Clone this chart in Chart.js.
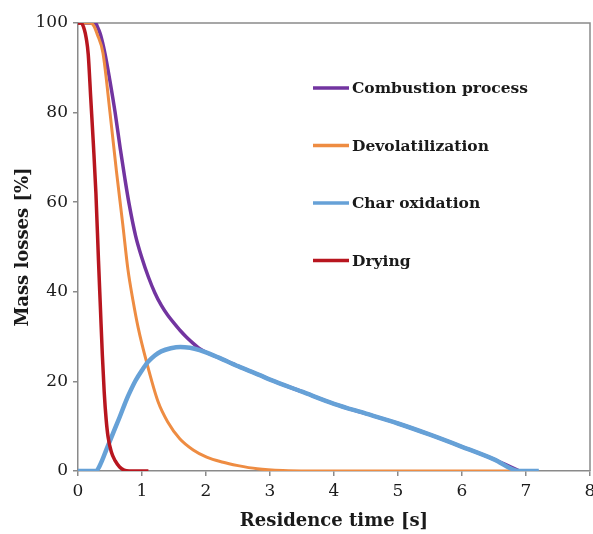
<!DOCTYPE html>
<html>
<head>
<meta charset="utf-8">
<script src="https://cdn.jsdelivr.net/npm/chart.js@4/dist/chart.umd.min.js"></script>
<style>
  html, body { margin: 0; padding: 0; background: #fff; }
  #wrap { width: 593px; height: 534px; }
</style>
</head>
<body>
<div id="wrap"><canvas id="massChart" width="593" height="534"></canvas></div>
<script>
// values (time in s, mass losses in %)
const combustionTime = [0, 0.27, 0.3, 0.35, 0.42, 0.5, 0.58, 0.66, 0.73, 0.8, 0.9, 1.0, 1.1, 1.2, 1.3, 1.4, 1.5, 1.6, 1.7, 1.8, 1.9, 2.0, 2.2, 2.5, 2.84, 3, 3.5, 4, 4.5, 5, 5.5, 6, 6.5, 6.9];
const combustionMass = [100, 100, 99.3, 97.5, 93.3, 87, 80, 72, 65.5, 59.5, 52.5, 47.5, 43.3, 39.8, 37, 34.8, 33, 31.3, 29.8, 28.5, 27.3, 26.5, 25.3, 23.4, 21.4, 20.4, 17.7, 15, 12.8, 10.6, 8.1, 5.4, 2.6, 0];

const devolTime = [0, 0.19, 0.25, 0.3, 0.39, 0.5, 0.6, 0.7, 0.78, 0.86, 0.94, 1.07, 1.25, 1.4, 1.59, 1.8, 2.01, 2.25, 2.5, 2.8, 3.2, 3.6, 5, 7];
const devolMass = [100, 100, 99.3, 97.5, 93.3, 80, 67, 55, 45, 38, 32, 24.4, 15.5, 11, 7.2, 4.7, 3.1, 2, 1.2, 0.5, 0.1, 0, 0, 0];

const charTime = [0, 0.28, 0.35, 0.45, 0.55, 0.65, 0.76, 0.81, 0.9, 1.0, 1.09, 1.2, 1.3, 1.45, 1.6, 1.75, 1.9, 2.0, 2.2, 2.5, 2.84, 3, 3.5, 4, 4.5, 5, 5.5, 6, 6.5, 6.9, 7.2];
const charMass = [0, 0, 1.5, 5, 8.5, 12, 16, 17.6, 20.2, 22.5, 24.3, 25.8, 26.7, 27.4, 27.7, 27.5, 27.0, 26.5, 25.3, 23.4, 21.4, 20.4, 17.7, 15, 12.8, 10.6, 8.1, 5.4, 2.6, 0, 0];

const dryingTime = [0, 0.05, 0.1, 0.13, 0.16, 0.2, 0.24, 0.28, 0.32, 0.35, 0.38, 0.41, 0.44, 0.47, 0.52, 0.58, 0.65, 0.72, 0.8, 1.1];
const dryingMass = [100, 100, 98.5, 96.5, 93, 83, 73, 62, 47, 36.5, 26, 17.5, 11.5, 7.6, 4.3, 2.3, 0.9, 0.2, 0, 0];

const xTicks = [0, 1, 2, 3, 4, 5, 6, 7, 8];
const yTicks = [0, 20, 40, 60, 80, 100];

function toPoints(xs, ys) {
  return xs.map((x, i) => ({ x: x, y: ys[i] }));
}

const serif = "'DejaVu Serif', 'Liberation Serif', serif";
const axisGray = "#8a8a8a";
const textColor = "#1a1a1a";

// legend drawn inside the plot, as in the original figure
const innerLegend = {
  id: "innerLegend",
  afterDraw(chart) {
    const { ctx, chartArea } = chart;
    const legendOrder = [3, 2, 1, 0];
    ctx.save();
    ctx.font = "bold 15.5px " + serif;
    ctx.textBaseline = "middle";
    ctx.fillStyle = textColor;
    legendOrder.forEach((idx, row) => {
      const ds = chart.data.datasets[idx];
      const y = chartArea.top + 65 + row * 57.5;
      ctx.strokeStyle = ds.borderColor;
      ctx.lineWidth = 3.5;
      ctx.beginPath();
      ctx.moveTo(chartArea.left + 235, y);
      ctx.lineTo(chartArea.left + 271, y);
      ctx.stroke();
      ctx.fillText(ds.label, chartArea.left + 274, y + 1);
    });
    ctx.restore();
  },
};

// top and right frame lines
const frame = {
  id: "frame",
  beforeDatasetsDraw(chart) {
    const { ctx, chartArea } = chart;
    ctx.save();
    ctx.strokeStyle = axisGray;
    ctx.lineWidth = 1.5;
    ctx.beginPath();
    ctx.moveTo(chartArea.left, chartArea.top);
    ctx.lineTo(chartArea.right, chartArea.top);
    ctx.lineTo(chartArea.right, chartArea.bottom);
    ctx.stroke();
    ctx.restore();
  },
};

const ctx = document.getElementById("massChart").getContext("2d");
new Chart(ctx, {
  type: "line",
  data: {
    datasets: [
      {
        label: "Drying",
        data: toPoints(dryingTime, dryingMass),
        borderColor: "#b8161f",
        borderWidth: 3.5,
      },
      {
        label: "Char oxidation",
        data: toPoints(charTime, charMass),
        borderColor: "#66a1d7",
        borderWidth: 4.5,
      },
      {
        label: "Devolatilization",
        data: toPoints(devolTime, devolMass),
        borderColor: "#ee8c42",
        borderWidth: 3,
      },
      {
        label: "Combustion process",
        data: toPoints(combustionTime, combustionMass),
        borderColor: "#7234a0",
        borderWidth: 3.5,
      },
    ],
  },
  options: {
    responsive: false,
    animation: false,
    layout: { padding: { top: 23, right: 3, left: 4, bottom: 0 } },
    elements: {
      point: { radius: 0 },
      line: { cubicInterpolationMode: "monotone", fill: false },
    },
    plugins: {
      legend: { display: false },
      tooltip: { enabled: false },
    },
    scales: {
      x: {
        type: "linear",
        min: 0,
        max: 8,
        afterFit(scale) {
          scale.height = 63;
          scale.paddingRight = 0;
          scale.paddingLeft = 0;
        },
        afterBuildTicks(scale) { scale.ticks = xTicks.map((v) => ({ value: v })); },
        grid: { drawOnChartArea: false, drawTicks: true, tickLength: 5, color: axisGray, lineWidth: 1.5 },
        border: { display: true, color: axisGray, width: 1.5 },
        ticks: { color: textColor, font: { family: serif, size: 17 }, padding: 5, maxRotation: 0 },
        title: {
          display: true,
          text: "Residence time [s]",
          color: textColor,
          font: { family: serif, size: 18, weight: "bold" },
          padding: { top: 0, bottom: 2 },
        },
      },
      y: {
        min: 0,
        max: 100,
        afterFit(scale) { scale.width = 74; },
        afterBuildTicks(scale) { scale.ticks = yTicks.map((v) => ({ value: v })); },
        grid: { drawOnChartArea: false, drawTicks: true, tickLength: 5, color: axisGray, lineWidth: 1.5 },
        border: { display: true, color: axisGray, width: 1.5 },
        ticks: { color: textColor, font: { family: serif, size: 17 }, padding: 5 },
        title: {
          display: true,
          text: "Mass losses [%]",
          color: textColor,
          font: { family: serif, size: 18, weight: "bold" },
          padding: { top: 9, bottom: 0 },
        },
      },
    },
  },
  plugins: [frame, innerLegend],
});
</script>
</body>
</html>
